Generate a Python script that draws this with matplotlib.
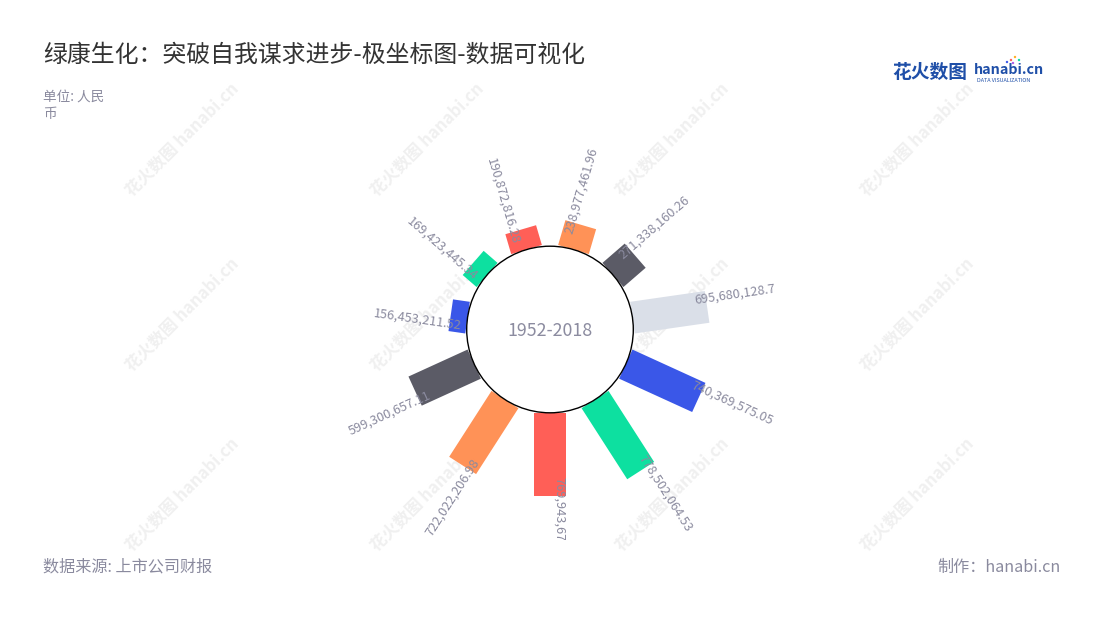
import numpy as np
import matplotlib
matplotlib.use("Agg")
import matplotlib.pyplot as plt
from matplotlib.patches import Polygon, Circle

plt.rcParams['font.family'] = ['Noto Sans CJK SC', 'DejaVu Sans']

## data, clockwise from the top
values = [238977461.96, 271338160.26, 695680128.7, 740369575.05, 778502064.53,
          769943679.0, 722022206.98, 599300657.11, 156453211.52, 169423445.34,
          190872816.28]
labels = ["238,977,461.96", "271,338,160.26", "695,680,128.7", "740,369,575.05",
          "778,502,064.53", "769,943,679", "722,022,206.98", "599,300,657.11",
          "156,453,211.52", "169,423,445.34", "190,872,816.28"]
colors = ["#FF9257", "#5B5B66", "#DADFE8", "#3A57E8", "#0DE0A0", "#FF5F57",
          "#FF9257", "#5B5B66", "#3A57E8", "#0DE0A0", "#FF5F57"]
center_label = "1952-2018"

W, H = 1100, 620
fig = plt.figure(figsize=(11, 6.2), dpi=100)
fig.patch.set_facecolor('white')

def fx(x):
    return x / W

def fy(y):
    return 1 - y / H

# chart axes: 1 data unit = 1 pixel, origin at the centre of the ring
cx, cy = 550, 329.5
top, bottom = 80, 540
ax = fig.add_axes([0, fy(bottom), 1, (bottom - top) / H])
ax.set_xlim(-cx, W - cx)
ax.set_ylim(-(bottom - cy), cy - top)
ax.set_aspect('equal')
ax.axis('off')

# watermarks
for wx in [182, 427, 672, 917]:
    for wy in [140, 315, 495]:
        ax.text(wx - cx, cy - wy, "花火数图 hanabi.cn", rotation=45, ha='center',
                va='center', fontsize=12, fontweight='bold', color='#f0f0f0',
                zorder=0, rotation_mode='anchor')

R0 = 83.3
scale = 83.5 / 770e6   # pixels per unit value
bar_w = 32
n = len(values)
step = 2 * np.pi / n

for i, v in enumerate(values):
    theta = (i + 0.5) * step          # clockwise from top
    phi = np.pi / 2 - theta           # math angle
    u = np.array([np.cos(phi), np.sin(phi)])
    p = np.array([-np.sin(phi), np.cos(phi)])   # counterclockwise side
    r1 = R0 + v * scale
    h = bar_w / 2
    pts = [R0 * u - h * p, R0 * u + h * p, r1 * u + h * p, r1 * u - h * p]
    ax.add_patch(Polygon(pts, closed=True, facecolor=colors[i], edgecolor='none', zorder=2))

    inset = 19 if abs(np.cos(phi)) < 1e-6 else 12
    pos = (r1 - inset) * u + 9 * p
    deg = np.degrees(phi)
    if np.cos(phi) > 1e-6 or abs(np.cos(phi)) <= 1e-6 and np.sin(phi) < 0:
        rot, ha = deg, 'left'
    else:
        rot, ha = deg - 180, 'right'
    t = ax.text(pos[0], pos[1], labels[i], rotation=rot, rotation_mode='anchor',
                ha=ha, va='center', fontsize=9.2, color='#8A8A9E', zorder=4)
    t.set_clip_on(True)

ax.add_patch(Circle((0, 0), R0, facecolor='white', edgecolor='black', lw=1, zorder=3))
ax.text(0, -2, center_label, ha='center', va='center', fontsize=12.8,
        color='#8C8CA0', zorder=4)

# titles and footer
fig.text(fx(43), fy(55), "绿康生化：突破自我谋求进步-极坐标图-数据可视化",
         fontsize=17.2, color='#333333', va='center')
fig.text(fx(43), fy(97), "单位: 人民", fontsize=9.8, color='#8A8A9E', va='center')
fig.text(fx(43), fy(114), "币", fontsize=9.8, color='#8A8A9E', va='center')
fig.text(fx(43), fy(567), "数据来源: 上市公司财报", fontsize=11.6, color='#8A8A9E', va='center')
fig.text(fx(1061), fy(567), "制作：hanabi.cn", fontsize=11.6, color='#8A8A9E',
         va='center', ha='right')

# logo
fig.text(fx(892), fy(72), "花火数图", fontsize=13.5, fontweight='bold', color='#1F4FA8', va='center')
fig.text(fx(974), fy(70), "hanabi.cn", fontsize=10.3, fontweight='bold', color='#1F4FA8', va='center')
fig.text(fx(977), fy(80.5), "DATA VISUALIZATION", fontsize=3.9, color='#1F4FA8', va='center')
ax.scatter([1011 - cx, 1015 - cx, 1019 - cx, 1007 - cx, 1013 - cx],
           [cy - 60, cy - 57, cy - 60, cy - 62, cy - 63],
           s=3, c=['#FF5F57', '#FFB020', '#0DE0A0', '#3A57E8', '#B05CE8'],
           clip_on=False, zorder=5, linewidths=0)

plt.savefig("out.png", dpi=100)
plt.close()
